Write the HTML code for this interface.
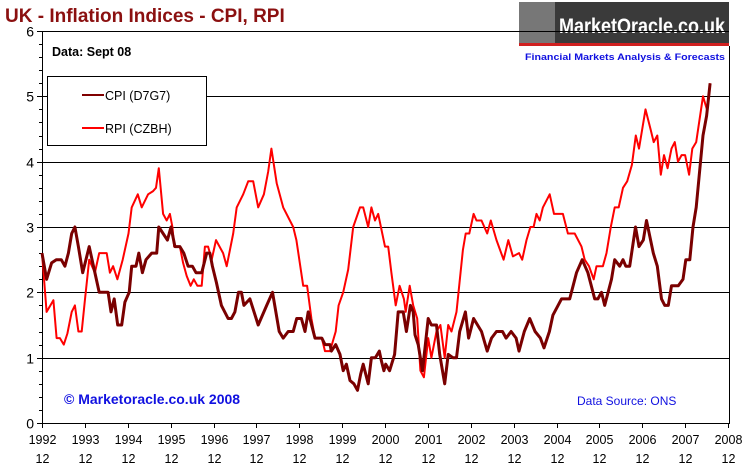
<!DOCTYPE html>
<html><head><meta charset="utf-8"><style>
html,body{margin:0;padding:0;background:#fff;}
svg{display:block;font-family:"Liberation Sans",Arial,sans-serif;}
</style></head><body>
<svg id="chart" width="742" height="472" viewBox="0 0 742 472" xmlns="http://www.w3.org/2000/svg">
<text x="5" y="22" font-size="19" font-weight="bold" fill="#8b1010">UK - Inflation Indices - CPI, RPI</text>
<g>
<rect x="519" y="2" width="210" height="41" fill="#3a3a3a"/>
<rect x="519" y="2" width="36" height="41" fill="#777"/>
<rect x="519" y="43" width="210" height="3" fill="#d02020"/>
<text x="559" y="33" font-size="21" font-weight="bold" fill="#fff" textLength="166" lengthAdjust="spacingAndGlyphs">MarketOracle.co.uk</text>
<text x="525" y="60" font-size="9.5" font-weight="bold" fill="#1010e0" textLength="200" lengthAdjust="spacingAndGlyphs">Financial Markets Analysis &amp; Forecasts</text>
</g>
<g id="grid"></g>
<g id="axes"></g>
<g id="series"></g>
<text x="52" y="56" font-size="12.5" font-weight="bold" fill="#000">Data: Sept 08</text>
<g>
<rect x="47.5" y="76.5" width="159" height="69" fill="#fff" stroke="#000" stroke-width="1"/>
<g><line x1="82" y1="95" x2="104" y2="95" stroke="#800000" stroke-width="2"/><text x="105" y="100" font-size="12.5" fill="#000">CPI (D7G7)</text></g>
<g><line x1="82" y1="128" x2="104" y2="128" stroke="#ff0000" stroke-width="2"/><text x="105" y="133" font-size="12.5" fill="#000">RPI (CZBH)</text></g>
</g>
<text x="64" y="404" font-size="14" font-weight="bold" fill="#1010e0">© Marketoracle.co.uk  2008</text>
<text x="577" y="405" font-size="12" fill="#1010e0">Data Source: ONS</text>
</svg>
<script>
// months since Dec 1992, annual inflation %
const cpiMonths=[0,1.3,2.7,4,5.4,6.4,7.4,8.3,9.2,10.2,11.4,13.2,14.6,16,18.5,19.3,20.2,21.2,22.3,23.2,24.4,25.1,26.3,27.1,28.1,29.1,30.7,32.1,32.7,33.9,35.1,36.1,37.2,38.6,39.7,40.9,42.1,43.1,44.7,46.1,47,47.7,48.8,50.2,52.1,53,54,55,55.8,56.5,58.2,60.5,62.9,64.5,66.4,67.5,68.9,70.3,71.3,72.6,73.6,74.5,76.4,78.3,79.2,80.6,81,82.2,83.4,84.3,85.2,86.2,87.3,88.3,89.2,89.9,91.3,92.2,93.3,94.4,95,95.7,96.2,97.3,98.7,99.7,101.1,102,103.1,103.9,104.4,105.3,106.5,108.1,109,110.4,111.3,112.7,113.7,115,116,116.9,118.5,119.4,120.8,123,124.6,125.8,127.2,128.9,129.9,131.3,132.7,133.5,135,136.5,138,139.5,140.5,142,143,145.4,147.7,149.6,151.2,152.8,154.7,155.6,156.6,157.5,159.4,160.3,161.7,162.6,163.4,164.5,166.1,167.1,168.3,169.2,171.1,172.2,173.4,174.3,175.3,176.2,178.1,179.4,180.2,181.3,182.2,183.1,185,186,187];
const cpiValues=[2.6,2.2,2.45,2.5,2.5,2.4,2.6,2.9,3.0,2.7,2.3,2.7,2.35,2.0,2.0,1.7,1.9,1.5,1.5,1.85,2.0,2.4,2.4,2.6,2.3,2.5,2.6,2.6,3.0,2.9,2.8,3.0,2.7,2.7,2.6,2.4,2.4,2.3,2.3,2.6,2.6,2.4,2.15,1.8,1.6,1.6,1.7,2.0,2.0,1.8,1.9,1.5,1.8,2.0,1.4,1.3,1.4,1.4,1.6,1.6,1.4,1.7,1.3,1.3,1.2,1.2,1.1,1.2,1.05,0.8,0.9,0.65,0.6,0.5,0.75,0.9,0.6,1.0,1.0,1.1,0.95,0.8,0.9,0.8,1.05,1.7,1.7,1.4,1.8,1.7,1.35,1.2,0.8,1.6,1.5,1.5,1.05,0.6,1.05,1.0,1.0,1.4,1.7,1.3,1.6,1.4,1.1,1.3,1.4,1.4,1.3,1.4,1.3,1.1,1.4,1.6,1.4,1.3,1.15,1.4,1.65,1.9,1.9,2.3,2.5,2.3,1.9,1.9,2.0,1.8,2.2,2.5,2.4,2.5,2.4,2.4,3.0,2.7,2.8,3.1,2.6,2.4,1.9,1.8,1.8,2.1,2.1,2.2,2.5,2.5,3.0,3.3,4.4,4.7,5.2];
const rpiMonths=[0,1.3,3.2,4.1,5,6.1,7.1,8.3,9.2,10.2,11.1,12,13.2,14.8,16,18.1,19,19.9,21.1,22.6,24.2,25.1,26.8,27.9,29.7,31.1,31.9,32.7,33.9,34.9,35.8,36.5,37,38.6,39.5,40.5,41.6,42.5,43.5,44.7,45.6,46.5,47.5,48.7,50.7,51.7,53.5,54.5,56.3,57.7,59.1,60.5,62.1,63.3,64.2,65.7,67.5,70.3,71.2,73.1,74.2,75.4,76.4,78.3,79.2,80.6,82.2,83,84.3,85.7,87.1,89,89.9,91.3,92.2,93.2,94.1,96,96.9,97.8,99,100.1,101.3,101.8,102.9,103.9,105,105.9,106.9,108.1,109,110.4,111.5,112.7,113.7,114.6,116,117.8,118.6,119.6,120.8,121.6,123,124.6,125.6,127.2,129.2,130.5,131.8,133.5,134.4,135.6,136.7,137.6,138.4,139.3,140.2,142.1,143.3,145.8,147.2,149.1,151,151.9,153.1,154.4,155.2,157,158,159.2,160.3,161.4,162.6,163.8,165.1,166.2,167.1,168.9,170.3,171.2,172.2,173.2,174.1,175.1,176.2,177.1,178,179,180,181.1,182,183.1,185,186.1,187];
const rpiValues=[2.6,1.7,1.88,1.3,1.3,1.2,1.37,1.7,1.8,1.4,1.4,1.88,2.5,2.3,2.6,2.6,2.3,2.4,2.2,2.5,2.9,3.3,3.5,3.3,3.5,3.55,3.6,3.9,3.2,3.1,3.2,3.0,2.7,2.7,2.45,2.25,2.1,2.2,2.1,2.1,2.7,2.7,2.5,2.8,2.6,2.4,2.9,3.3,3.5,3.7,3.7,3.3,3.5,3.85,4.2,3.67,3.3,3.0,2.8,2.1,2.1,1.6,1.3,1.3,1.1,1.1,1.4,1.8,2.0,2.35,3.0,3.3,3.3,3.0,3.3,3.1,3.2,2.7,2.7,2.3,1.8,2.1,1.9,1.7,2.1,1.8,1.6,0.8,0.7,1.3,1.0,1.4,1.5,1.0,1.5,1.4,1.7,2.65,2.9,2.9,3.2,3.1,3.1,2.9,3.1,2.8,2.5,2.8,2.55,2.6,2.5,2.8,3.0,3.0,3.2,3.1,3.3,3.5,3.2,3.2,2.9,2.9,2.7,2.5,2.4,2.2,2.4,2.4,2.6,3.0,3.3,3.3,3.6,3.7,3.95,4.4,4.2,4.8,4.5,4.3,4.4,3.8,4.1,3.9,4.2,4.3,4.0,4.1,4.1,3.8,4.2,4.3,5.0,4.8,5.2];
const yTicks=[0,1,2,3,4,5,6];
const xTickLabels=["1992","1993","1994","1995","1996","1997","1998","1999","2000","2001","2002","2003","2004","2005","2006","2007","2008"];

const NS="http://www.w3.org/2000/svg";
const X0=42,X1=729,XD=728,Y0=423,Y6=31;
function xScale(m){return X0+(XD-X0)*m/192;}
function yScale(v){return Y0-(Y0-Y6)*v/6;}
function mk(tag,attrs,parent){const e=document.createElementNS(NS,tag);for(const k in attrs)e.setAttribute(k,attrs[k]);parent.appendChild(e);return e;}
const gridG=document.getElementById('grid'),axesG=document.getElementById('axes'),seriesG=document.getElementById('series');

yTicks.forEach(v=>{
  const y=Math.round(yScale(v))+0.5;
  if(v>0){const g=mk('line',{x1:X0,x2:X1,y1:y,y2:y,stroke:'#000','stroke-width':1},gridG);
  
  }
  const t=mk('text',{x:34,y:y+5,'font-size':14,'text-anchor':'end',fill:'#000'},axesG);
  t.textContent=v;
  
  
  mk('line',{x1:X0-5,x2:X0,y1:y,y2:y,stroke:'#000'},axesG);
});
for(let i=0;i<30;i++){const y=Math.round(yScale(i*0.2))+0.5;mk('line',{x1:X0-3,x2:X0,y1:y,y2:y,stroke:'#000'},axesG);}
const topLine=mk('line',{x1:X0,x2:518,y1:Y6+0.5,y2:Y6+0.5,stroke:'#000'},axesG);
const ya=mk('line',{x1:X0+0.5,x2:X0+0.5,y1:Y6,y2:Y0+1,stroke:'#000','stroke-width':1},axesG);


const ra=mk('line',{x1:X1+0.5,x2:X1+0.5,y1:46,y2:Y0,stroke:'#000'},axesG);
const xa=mk('line',{x1:X0,x2:X1+1,y1:Y0+0.5,y2:Y0+0.5,stroke:'#000','stroke-width':1},axesG);


xTickLabels.forEach((lab,i)=>{
  const x=Math.round(xScale(i*12))+0.5;
  mk('line',{x1:x,x2:x,y1:Y0,y2:Y0+5,stroke:'#000'},axesG);
  const t=mk('text',{x:x,y:444,'font-size':12.5,'text-anchor':'middle',fill:'#000'},axesG);
  t.textContent=lab;
  
  
  const t2=mk('text',{x:x,y:463,'font-size':12.5,'text-anchor':'middle',fill:'#000'},axesG);
  t2.textContent='12';
  
  
});
function drawLine(ms,vs,color,w,name){
  const n=Math.min(ms.length,vs.length);
  let d='';
  for(let i=0;i<n;i++){d+=(i?'L':'M')+xScale(ms[i]).toFixed(1)+','+yScale(vs[i]).toFixed(1);}
  const p=mk('path',{d:d,fill:'none',stroke:color,'stroke-width':w,'stroke-linejoin':'round'},seriesG);
  
  
}
drawLine(rpiMonths,rpiValues,'#ff0000',2,'rpi-line');
drawLine(cpiMonths,cpiValues,'#7a0000',3,'cpi-line');
</script>
</body></html>
